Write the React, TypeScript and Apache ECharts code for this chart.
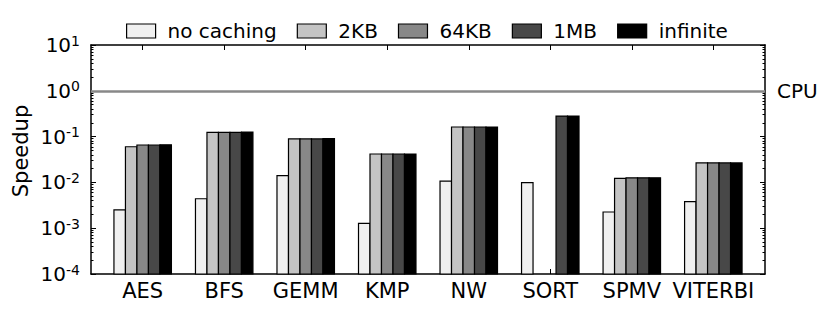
import React, { useEffect, useRef } from "react";
import * as echarts from "echarts";

const categories = ["AES", "BFS", "GEMM", "KMP", "NW", "SORT", "SPMV", "VITERBI"];
const seriesNames = ["no caching", "2KB", "64KB", "1MB", "infinite"];
const noCaching = [0.0025, 0.0044, 0.014, 0.00128, 0.0107, 0.0099, 0.00226, 0.0038];
const kb2 = [0.06, 0.124, 0.089, 0.0417, 0.162, null, 0.0123, 0.0266];
const kb64 = [0.0656, 0.124, 0.089, 0.0417, 0.162, null, 0.0126, 0.0266];
const mb1 = [0.0656, 0.124, 0.089, 0.0417, 0.162, 0.28, 0.0126, 0.0266];
const infinite = [0.066, 0.126, 0.09, 0.0417, 0.162, 0.28, 0.0126, 0.0266];
const seriesValues = [noCaching, kb2, kb64, mb1, infinite];
const seriesColors = ["#f0f0f0", "#c4c4c4", "#888888", "#484848", "#000000"];
const yMajorTicks = [1e-4, 1e-3, 1e-2, 1e-1, 1, 10];
const yMinorTicks: number[] = [];
for (let k = -4; k < 1; k++) {
  for (let m = 2; m <= 9; m++) yMinorTicks.push(m * Math.pow(10, k));
}
const xTickIdx = categories.map((_, i) => i);
const cpuLevel = 1;
const cpuLabel = "CPU";

const FONT = "DejaVu Sans";
const X_MIN = -0.634;
const X_MAX = 7.634;
const Y_MIN = 1e-4;
const Y_MAX = 10;
const BAR_FRACTION = 0.141;

export default function App() {
  const ref = useRef<HTMLDivElement>(null);
  useEffect(() => {
    document.body.style.margin = "0";
    const chart = echarts.init(ref.current!, null, { renderer: "svg" });
    const gridPos = { left: 91, right: 65, top: 45, bottom: 37 };
    const lineStyle = { color: "#000", width: 1.5 };
    const tickLine = { color: "#000", width: 1 };
    const option: any = {
      animation: false,
      textStyle: { fontFamily: FONT },
      legend: {
        data: seriesNames.map((name, si) => ({
          name,
          icon: "rect",
          itemStyle: { color: seriesColors[si], borderColor: "#000", borderWidth: 1.2 },
        })),
        left: 121,
        top: 16,
        itemWidth: 29,
        itemHeight: 14,
        itemGap: 20,
        textStyle: { fontFamily: FONT, fontSize: 20, color: "#000", padding: [0, 0, 0, 7] },
      },
      graphic: [
        {
          type: "text",
          x: 21,
          y: 151,
          rotation: Math.PI / 2,
          style: {
            text: "Speedup",
            fontFamily: FONT,
            fontSize: 21,
            fill: "#000",
            align: "center",
            verticalAlign: "middle",
          },
        },
      ],
      grid: [{ ...gridPos }, { ...gridPos }],
      xAxis: [
        {
          type: "value",
          gridIndex: 0,
          min: X_MIN,
          max: X_MAX,
          position: "bottom",
          splitLine: { show: false },
          axisLine: { show: true, onZero: false, lineStyle },
          axisTick: { show: true, inside: true, length: 5, customValues: xTickIdx, lineStyle: tickLine },
          axisLabel: {
            customValues: xTickIdx,
            formatter: (v: number) => categories[Math.round(v)] ?? "",
            fontFamily: FONT,
            fontSize: 21,
            color: "#000",
            margin: 6,
          },
        },
        {
          type: "value",
          gridIndex: 0,
          min: X_MIN,
          max: X_MAX,
          position: "top",
          splitLine: { show: false },
          axisLine: { show: true, onZero: false, lineStyle },
          axisTick: { show: true, inside: true, length: 5, customValues: xTickIdx, lineStyle: tickLine },
          axisLabel: { show: false },
        },
        {
          type: "value",
          gridIndex: 1,
          min: X_MIN,
          max: X_MAX,
          show: false,
          axisLine: { onZero: false },
        },
      ],
      yAxis: [
        {
          type: "log",
          logBase: 10,
          gridIndex: 0,
          min: Y_MIN,
          max: Y_MAX,
          position: "left",
          splitLine: { show: false },
          axisLine: { show: true, onZero: false, lineStyle },
          axisTick: { show: true, inside: true, length: 5, customValues: yMajorTicks, lineStyle: tickLine },
          axisLabel: {
            customValues: yMajorTicks,
            margin: 11,
            formatter: (v: number) => {
              const e = Math.round(Math.log10(v));
              return `{b|10}{s|${e}}`;
            },
            rich: {
              b: { fontFamily: FONT, fontSize: 20, color: "#000" },
              s: { fontFamily: FONT, fontSize: 14, color: "#000", padding: [0, 0, 9, 0] },
            },
          },
        },
        {
          type: "log",
          logBase: 10,
          gridIndex: 0,
          min: Y_MIN,
          max: Y_MAX,
          position: "right",
          splitLine: { show: false },
          axisLine: { show: true, onZero: false, lineStyle },
          axisTick: { show: true, inside: true, length: 5, customValues: yMajorTicks, lineStyle: tickLine },
          axisLabel: { show: false },
        },
        {
          type: "log",
          logBase: 10,
          gridIndex: 1,
          min: Y_MIN,
          max: Y_MAX,
          position: "left",
          splitLine: { show: false },
          axisLine: { show: false, onZero: false },
          axisTick: { show: true, inside: true, length: 2.5, customValues: yMinorTicks, lineStyle: tickLine },
          axisLabel: { show: false },
        },
        {
          type: "log",
          logBase: 10,
          gridIndex: 1,
          min: Y_MIN,
          max: Y_MAX,
          position: "right",
          splitLine: { show: false },
          axisLine: { show: false, onZero: false },
          axisTick: { show: true, inside: true, length: 2.5, customValues: yMinorTicks, lineStyle: tickLine },
          axisLabel: { show: false },
        },
      ],
      series: seriesNames.map((name, si) => ({
        name,
        type: "custom",
        xAxisIndex: 0,
        yAxisIndex: 0,
        itemStyle: { color: seriesColors[si], borderColor: "#000", borderWidth: 1.2 },
        encode: { x: 0, y: 1 },
        data: seriesValues[si]
          .map((v, i) => (v == null ? null : [i, v]))
          .filter((d) => d !== null),
        renderItem: (params: any, api: any) => {
          const i = api.value(0);
          const v = api.value(1);
          const top = api.coord([i, v]);
          const base = api.coord([i, Y_MIN]);
          const w = api.size([1, 1])[0] * BAR_FRACTION;
          const x = top[0] + (si - 2.5) * w;
          return {
            type: "rect",
            shape: { x, y: top[1], width: w, height: base[1] - top[1] },
            style: { fill: seriesColors[si], stroke: "#000", lineWidth: 1.2 },
          };
        },
        markLine:
          si === 0
            ? {
                silent: true,
                symbol: "none",
                lineStyle: { color: "#888888", width: 2.5, type: "solid" },
                label: {
                  show: true,
                  position: "end",
                  formatter: cpuLabel,
                  fontFamily: FONT,
                  fontSize: 20,
                  color: "#000",
                  distance: 12,
                },
                data: [{ yAxis: cpuLevel }],
              }
            : undefined,
      })),
    };
    chart.setOption(option);
    return () => chart.dispose();
  }, []);
  return <div ref={ref} style={{ width: 830, height: 311 }} />;
}
